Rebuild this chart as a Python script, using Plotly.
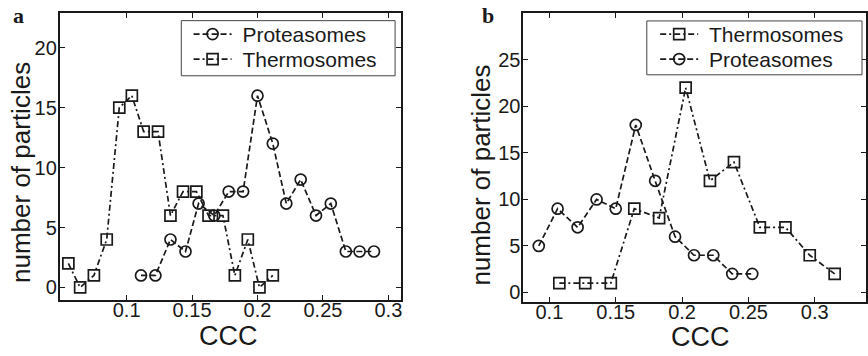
import plotly.graph_objects as go

# ---- data ----
a_prot_x = [0.111, 0.122, 0.1335, 0.145, 0.155, 0.167, 0.178, 0.189, 0.200, 0.2117, 0.222, 0.233, 0.2447, 0.256, 0.2675, 0.278, 0.289]
a_prot_y = [1, 1, 4, 3, 7, 6, 8, 8, 16, 12, 7, 9, 6, 7, 3, 3, 3]
a_therm_x = [0.0555, 0.0645, 0.075, 0.0848, 0.0944, 0.104, 0.113, 0.124, 0.1335, 0.1431, 0.1533, 0.1626, 0.1736, 0.1827, 0.1926, 0.2015, 0.2117]
a_therm_y = [2, 0, 1, 4, 15, 16, 13, 13, 6, 8, 8, 6, 6, 1, 4, 0, 1]

b_therm_x = [0.1075, 0.127, 0.1463, 0.164, 0.1827, 0.2027, 0.221, 0.2391, 0.2586, 0.2779, 0.2962, 0.315]
b_therm_y = [1, 1, 1, 9, 8, 22, 12, 14, 7, 7, 4, 2]
b_prot_x = [0.092, 0.1062, 0.1213, 0.1356, 0.150, 0.1651, 0.1797, 0.1947, 0.209, 0.2235, 0.2378, 0.2529]
b_prot_y = [5, 9, 7, 10, 9, 18, 12, 6, 4, 4, 2, 2]

x_ticks = [0.1, 0.15, 0.2, 0.25, 0.3]
x_ticklabels = ["0.1", "0.15", "0.2", "0.25", "0.3"]
a_y_ticks = [0, 5, 10, 15, 20]
b_y_ticks = [0, 5, 10, 15, 20, 25]

# page body margin is removed below, so the figure fills the window exactly
W, H = 868, 356
INK = "#1a1a1a"
DASH = "6px,3px"
DASHDOT = "6px,3px,2px,3px"
FONT = "Liberation Sans, Arial, sans-serif"

def px(v):
    return v / W

def py(v):
    return 1 - v / H

fig = go.Figure()

def add(x, y, name, sym, dash, xa, ya, legend):
    fig.add_trace(go.Scatter(
        x=x, y=y, name=name, mode="lines+markers",
        line=dict(color=INK, width=1.7, dash=dash),
        marker=dict(symbol=sym, size=11, color=INK, line=dict(width=1.7, color=INK)),
        xaxis=xa, yaxis=ya, legend=legend,
    ))

NB = "\u00a0"
add(a_prot_x, a_prot_y, NB + "Proteasomes", "circle-open", DASH, "x", "y", "legend")
add(a_therm_x, a_therm_y, NB + "Thermosomes", "square-open", DASHDOT, "x", "y", "legend2")
add(b_therm_x, b_therm_y, NB + "Thermosomes", "square-open", DASHDOT, "x2", "y2", "legend3")
add(b_prot_x, b_prot_y, NB + "Proteasomes", "circle-open", DASH, "x2", "y2", "legend4")

ax_common = dict(
    showline=True, linewidth=2, linecolor=INK, mirror="allticks",
    ticks="inside", ticklen=5, tickwidth=1.2, tickcolor=INK,
    showgrid=False, zeroline=False,
    tickfont=dict(family=FONT, size=20, color=INK),
)

leg_common = dict(
    xanchor="left", yanchor="top", bgcolor="rgba(0,0,0,0)", borderwidth=0,
    font=dict(family=FONT, size=21, color=INK), itemwidth=38, tracegroupgap=0,
)

fig.update_layout(
    width=W, height=H,
    margin=dict(l=0, r=0, t=0, b=0),
    paper_bgcolor="white", plot_bgcolor="white",
    showlegend=True,
    xaxis=dict(domain=[px(60), px(402)], range=[0.049, 0.3097], ticklabelstandoff=-9,
               tickvals=x_ticks, ticktext=x_ticklabels, anchor="y", **ax_common),
    yaxis=dict(domain=[py(301), py(13)], range=[-1.06, 22.9], ticklabelstandoff=-3,
               tickvals=a_y_ticks, anchor="x", **ax_common),
    xaxis2=dict(domain=[px(524.7), 1.0], range=[0.0805, 0.3386], ticklabelstandoff=-9,
                tickvals=x_ticks, ticktext=x_ticklabels, anchor="y2", **ax_common),
    yaxis2=dict(domain=[py(303.3), py(13.3)], range=[-1.07, 30.0], ticklabelstandoff=-3,
                tickvals=b_y_ticks, anchor="x2", **ax_common),
    legend=dict(x=px(189), y=py(14), **leg_common),
    legend2=dict(x=px(189), y=py(39), **leg_common),
    legend3=dict(x=px(656.7), y=py(14), **leg_common),
    legend4=dict(x=px(656.7), y=py(39), **leg_common),
)

# legend frames
for x0, x1, y0, y1 in [(181.7, 396, 20.7, 76), (648.3, 864, 21, 75)]:
    fig.add_shape(type="rect", xref="paper", yref="paper",
                  x0=px(x0), x1=px(x1), y0=py(y1), y1=py(y0),
                  line=dict(color="#444", width=1), fillcolor="white", layer="above")

title_font = dict(family=FONT, size=26, color=INK)
x_title_font = dict(family=FONT, size=27, color=INK)
serif = dict(family="Liberation Serif, Times New Roman, serif", size=22, color=INK)
ann = [
    dict(text="number of particles", x=px(21), y=py(172.5), textangle=-90, font=title_font),
    dict(text="number of particles", x=px(481.7), y=py(175.5), textangle=-90, font=title_font),
    dict(text="CCC", x=px(229), y=py(337), font=x_title_font),
    dict(text="CCC", x=px(702), y=py(338), font=x_title_font),
    dict(text="<b>a</b>", x=px(19), y=py(16), font=serif),
    dict(text="<b>b</b>", x=px(489), y=py(16), font=serif),
]
for a in ann:
    fig.add_annotation(xref="paper", yref="paper", showarrow=False,
                       xanchor="center", yanchor="middle", **a)

fig.write_html("out.html",
               config={"displayModeBar": False},
               post_script="document.body.style.margin='0px';document.body.style.overflow='hidden';")
